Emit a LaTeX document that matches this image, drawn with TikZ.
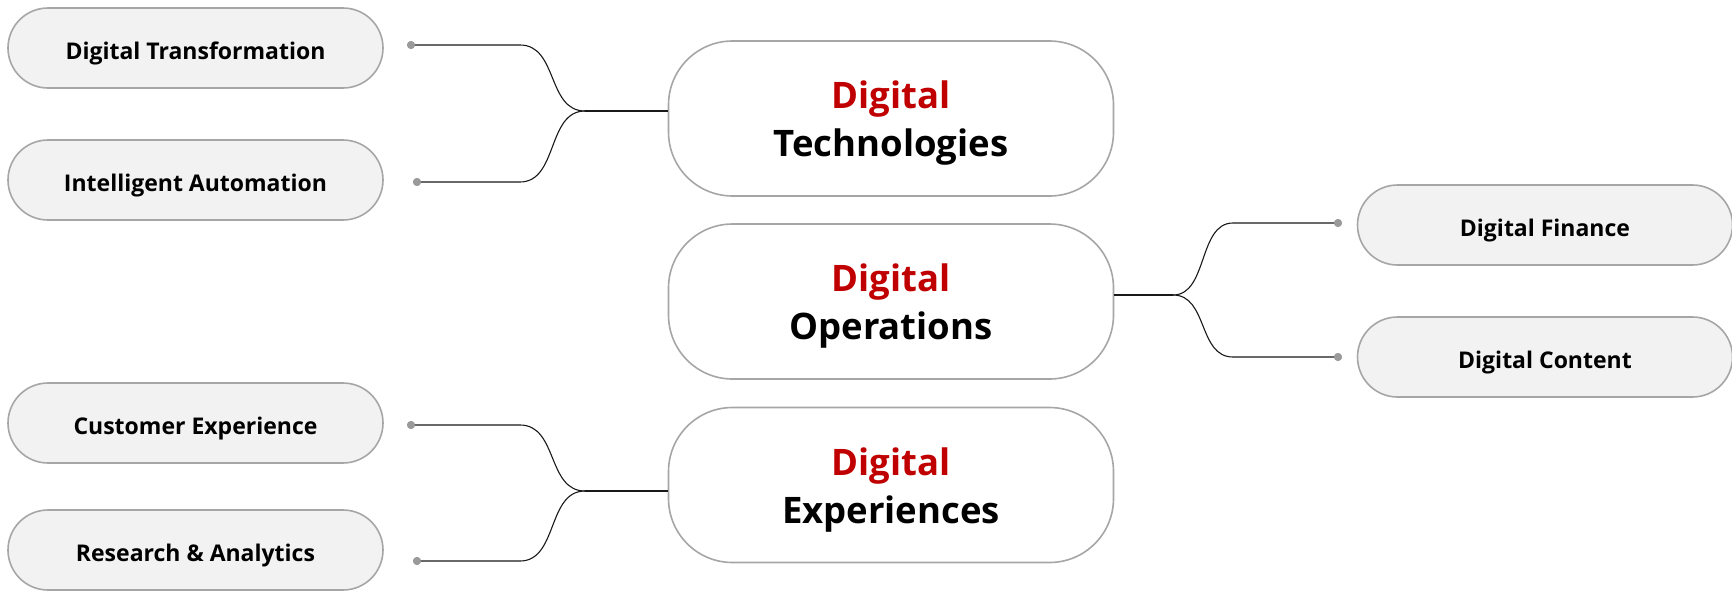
\documentclass[tikz,border=0pt]{standalone}
\usepackage{fontspec}
\setmainfont{Open Sans}
\usetikzlibrary{calc}
\definecolor{dred}{HTML}{C00000}
\definecolor{boxline}{HTML}{A6A6A6}
\definecolor{smallfill}{HTML}{F2F2F2}
\definecolor{dotgray}{HTML}{9A9A9A}
\begin{document}
\begin{tikzpicture}[x=1pt,y=-1pt,
  smallbox/.style={draw=boxline, line width=1.6pt, fill=smallfill, rounded corners=40pt,
    minimum width=375pt, minimum height=80pt, inner sep=0pt,
    text height=22pt, text depth=0pt,
    font=\fontsize{23}{27}\selectfont\bfseries},
  bigbox/.style={draw=boxline, line width=1.6pt, fill=white, rounded corners=64pt,
    minimum width=445pt, minimum height=155pt, inner sep=0pt},
  bigtext/.style={align=center, inner sep=0pt,
    font=\fontsize{36.5}{48}\selectfont\bfseries},
  conn/.style={draw=black!90, line width=1.1pt},
  enddot/.style={circle, fill=dotgray, minimum size=8pt, inner sep=0pt}
]
\useasboundingbox (0,0) rectangle (1732,590);

% big boxes
\node[bigbox] (b1) at (891,118.5) {};
\node[bigbox] (b2) at (891,301.5) {};
\node[bigbox] (b3) at (891,485) {};
\node[bigtext] (t1) at ($(b1.center)+(0,5)$) {{\color{dred}Digital}\\Technologies};
\node[bigtext] (t2) at ($(b2.center)+(0,5)$) {{\color{dred}Digital}\\Operations};
\node[bigtext] (t3) at ($(b3.center)+(0,5)$) {{\color{dred}Digital}\\Experiences};

% small boxes
\node[smallbox] (s1) at (195.5,48) {Digital Transformation};
\node[smallbox] (s2) at (195.5,180) {Intelligent Automation};
\node[smallbox] (s3) at (195.5,423) {Customer Experience};
\node[smallbox] (s4) at (195.5,550) {Research \& Analytics};
\node[smallbox] (s5) at (1545,225) {Digital Finance};
\node[smallbox] (s6) at (1545,357) {Digital Content};

% junctions and bends
\coordinate (j1) at (585,111);
\coordinate (j2) at (585,491);
\coordinate (j3) at (1173,295);
\coordinate (xl) at (520,0);
\coordinate (xr) at (1233,0);

% dots
\node[enddot] (d1) at (411,45) {};
\node[enddot] (d2) at (417,182) {};
\node[enddot] (d3) at (411,425) {};
\node[enddot] (d4) at (417,561) {};
\node[enddot] (d5) at (1338,223) {};
\node[enddot] (d6) at (1338,357) {};

% connectors
\draw[conn] (j1) -- (b1.west |- j1);
\draw[conn] (d1.center) -- (d1.center -| xl) .. controls +(38,0) and +(-38,0) .. (j1);
\draw[conn] (d2.center) -- (d2.center -| xl) .. controls +(38,0) and +(-38,0) .. (j1);

\draw[conn] (j2) -- (b3.west |- j2);
\draw[conn] (d3.center) -- (d3.center -| xl) .. controls +(38,0) and +(-38,0) .. (j2);
\draw[conn] (d4.center) -- (d4.center -| xl) .. controls +(38,0) and +(-38,0) .. (j2);

\draw[conn] (b2.east |- j3) -- (j3);
\draw[conn] (j3) .. controls +(35,0) and +(-35,0) .. (d5.center -| xr) -- (d5.center);
\draw[conn] (j3) .. controls +(35,0) and +(-35,0) .. (d6.center -| xr) -- (d6.center);

\node[enddot] at (d1) {};
\node[enddot] at (d2) {};
\node[enddot] at (d3) {};
\node[enddot] at (d4) {};
\node[enddot] at (d5) {};
\node[enddot] at (d6) {};
\end{tikzpicture}
\end{document}
